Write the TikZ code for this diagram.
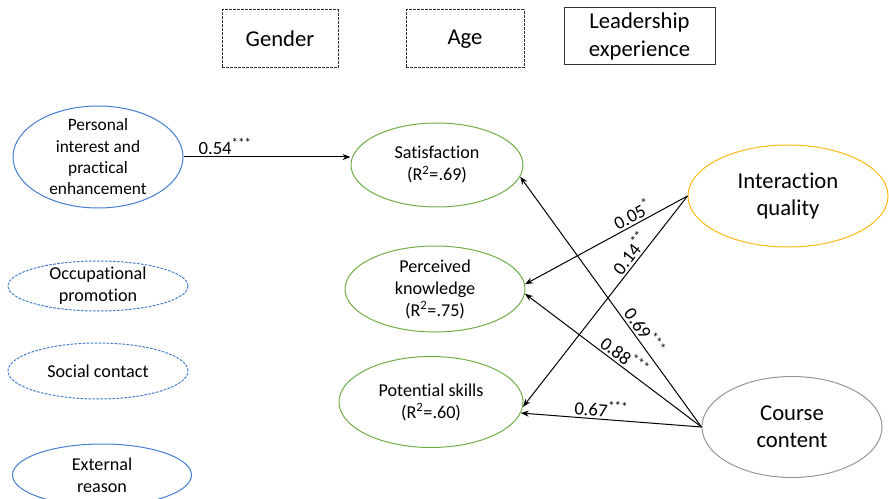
\documentclass[tikz,border=0pt]{standalone}
\usepackage{fontspec}
\setmainfont[Ligatures=NoCommon]{Carlito}
\usetikzlibrary{shapes.geometric}
\usetikzlibrary{arrows.meta}
\definecolor{ellblue}{RGB}{68,126,206}
\definecolor{ellgreen}{RGB}{112,173,71}
\definecolor{ellorange}{RGB}{255,186,20}
\definecolor{ellgray}{RGB}{150,150,150}
\definecolor{boxgray}{RGB}{50,50,50}
\tikzset{every picture/.style={line width=0.75pt}}
\tikzset{
  ctrlbox/.style={draw=boxgray, inner sep=0pt, align=center, font=\fontsize{17}{20.5}\selectfont},
  ell/.style={ellipse, draw, inner sep=0pt},
  blueell/.style={ell, draw=ellblue},
  greenell/.style={ell, draw=ellgreen},
  ltxt/.style={align=center, inner sep=0pt, font=\fontsize{13.6}{16.5}\selectfont},
  btxt/.style={align=center, inner sep=0pt, font=\fontsize{17}{20}\selectfont},
  link/.style={-{Stealth[length=6pt,width=4.5pt]}},
  coef/.style={font=\fontsize{14}{16}\selectfont, inner sep=1.5pt, above}
}

\begin{document}
\begin{tikzpicture}[x=0.75pt,y=0.75pt,yscale=-1,xscale=1]
\clip (0,0) rectangle (889,499);

% control variables
\node[ctrlbox, dash pattern=on 2pt off 1pt, minimum width=87pt, minimum height=43.5pt] (gender) at (280,39) {Gender};
\node[ctrlbox, dash pattern=on 2pt off 1pt, minimum width=88.5pt, minimum height=43.5pt] (age) at (465,39) {Age};
\node[ctrlbox, minimum width=113.25pt, minimum height=42.75pt] (leader) at (639.5,36.5) {Leadership\\experience};

% motivations
\node[blueell, minimum width=127.5pt, minimum height=76.5pt,
  label={[ltxt, font=\fontsize{13}{16}\selectfont]center:Personal\\interest and\\practical\\enhancement}] (personal) at (98,157) {};
\node[blueell, dash pattern=on 2pt off 1pt, minimum width=135pt, minimum height=37.5pt,
  label={[ltxt]center:Occupational\\promotion}] (occup) at (98,286) {};
\node[blueell, dash pattern=on 2pt off 1pt, minimum width=135pt, minimum height=42pt,
  label={[ltxt]center:Social contact}] (social) at (98,371) {};
\node[blueell, minimum width=134.25pt, minimum height=46.5pt,
  label={[ltxt]center:External\\reason}] (external) at (102,475) {};

% outcomes
\node[greenell, minimum width=129pt, minimum height=63pt,
  label={[ltxt]center:Satisfaction\\(R\textsuperscript{2}=.69)}] (satis) at (437,165) {};
\node[greenell, minimum width=135pt, minimum height=64.5pt,
  label={[ltxt]center:Perceived\\knowledge\\(R\textsuperscript{2}=.75)}] (knowl) at (435,289) {};
\node[greenell, minimum width=138pt, minimum height=68.25pt,
  label={[ltxt]center:Potential skills\\(R\textsuperscript{2}=.60)}] (skills) at (431,402) {};

% course factors
\node[ell, draw=ellorange, minimum width=150pt, minimum height=76.5pt,
  label={[btxt]center:Interaction\\quality}] (interact) at (788,196) {};
\node[ell, draw=ellgray, minimum width=135pt, minimum height=75.75pt,
  label={[btxt]center:Course\\content}] (course) at (792,427) {};

% paths
\draw[link] (personal.east) -- (personal.east -| satis.west) node[coef, pos=0.25] {0.54\textsuperscript{***}};
\draw[link] (interact.west) -- (knowl.3) node[coef, pos=0.31, rotate=28] {0.05\textsuperscript{*}};
\draw[link] (interact.west) -- (skills.-3) node[coef, pos=0.3, rotate=52] {0.14\textsuperscript{**}};
\draw[link] (course.west) -- (satis.-8) node[coef, pos=0.36, rotate=-55] {0.69\textsuperscript{***}};
\draw[link] (course.west) -- (knowl.-3) node[coef, pos=0.47, rotate=-37] {0.88\textsuperscript{***}};
\draw[link] (course.west) -- (skills.-7) node[coef, pos=0.56, rotate=-5] {0.67\textsuperscript{***}};

\end{tikzpicture}
\end{document}
